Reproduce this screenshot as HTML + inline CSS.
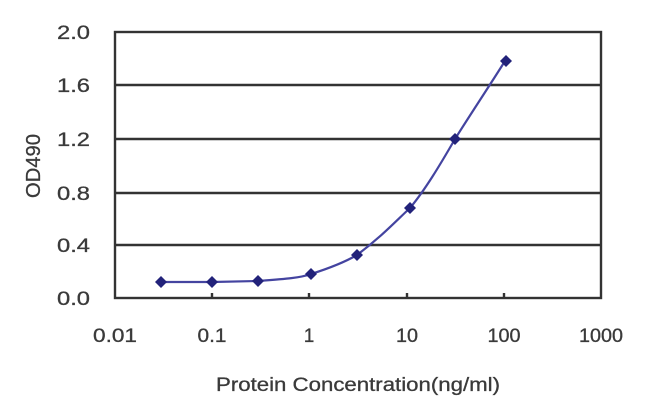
<!DOCTYPE html>
<html><head><meta charset="utf-8"><style>
html,body{margin:0;padding:0;background:#fff;}
</style></head><body>
<svg width="650" height="408" xmlns="http://www.w3.org/2000/svg" font-family="Liberation Sans, sans-serif" fill="#3a3a3a">
<g stroke="#333" stroke-width="2.4">
<line x1="115" y1="85" x2="601" y2="85"/>
<line x1="115" y1="139" x2="601" y2="139"/>
<line x1="115" y1="193" x2="601" y2="193"/>
<line x1="115" y1="245" x2="601" y2="245"/>
<rect x="115" y="32" width="486" height="266" fill="none"/>
<line x1="212" y1="298" x2="212" y2="293"/>
<line x1="309" y1="298" x2="309" y2="293"/>
<line x1="407" y1="298" x2="407" y2="293"/>
<line x1="504" y1="298" x2="504" y2="293"/>
</g>
<g font-size="19" text-anchor="end" stroke="#3a3a3a" stroke-width="0.3">
<text x="90" y="39" textLength="33" lengthAdjust="spacingAndGlyphs">2.0</text>
<text x="90" y="92" textLength="33" lengthAdjust="spacingAndGlyphs">1.6</text>
<text x="90" y="146" textLength="33" lengthAdjust="spacingAndGlyphs">1.2</text>
<text x="90" y="200" textLength="33" lengthAdjust="spacingAndGlyphs">0.8</text>
<text x="90" y="252" textLength="33" lengthAdjust="spacingAndGlyphs">0.4</text>
<text x="90" y="305" textLength="33" lengthAdjust="spacingAndGlyphs">0.0</text>
</g>
<g font-size="19" text-anchor="middle" stroke="#3a3a3a" stroke-width="0.3">
<text x="115" y="342" textLength="44" lengthAdjust="spacingAndGlyphs">0.01</text>
<text x="212" y="342" textLength="29" lengthAdjust="spacingAndGlyphs">0.1</text>
<text x="309" y="342">1</text>
<text x="407" y="342" textLength="22" lengthAdjust="spacingAndGlyphs">10</text>
<text x="504" y="342" textLength="33" lengthAdjust="spacingAndGlyphs">100</text>
<text x="601" y="342" textLength="44" lengthAdjust="spacingAndGlyphs">1000</text>
<text x="358" y="391" font-size="19" textLength="284" lengthAdjust="spacingAndGlyphs">Protein Concentration(ng/ml)</text>
</g>
<text transform="translate(40,166) rotate(-90)" font-size="20" text-anchor="middle" stroke="#3a3a3a" stroke-width="0.3" textLength="64" lengthAdjust="spacingAndGlyphs">OD490</text>
<path d="M161,282 L212,282 L258,281 C285,279 300,278 311,274 C330,268 345,262 357,255 C380,238 395,222 410,208 C425,190 440,165 455,139 C470,115 490,85 505,61" fill="none" stroke="#4444a0" stroke-width="2.2"/>
<g fill="#22227a">
<path d="M161,276 l6,6 l-6,6 l-6,-6z"/>
<path d="M212,276 l6,6 l-6,6 l-6,-6z"/>
<path d="M258,275 l6,6 l-6,6 l-6,-6z"/>
<path d="M311,268 l6,6 l-6,6 l-6,-6z"/>
<path d="M357,249 l6,6 l-6,6 l-6,-6z"/>
<path d="M410,202 l6,6 l-6,6 l-6,-6z"/>
<path d="M455,133 l6,6 l-6,6 l-6,-6z"/>
<path d="M506,55 l6,6 l-6,6 l-6,-6z"/>
</g>
</svg>
</body></html>
